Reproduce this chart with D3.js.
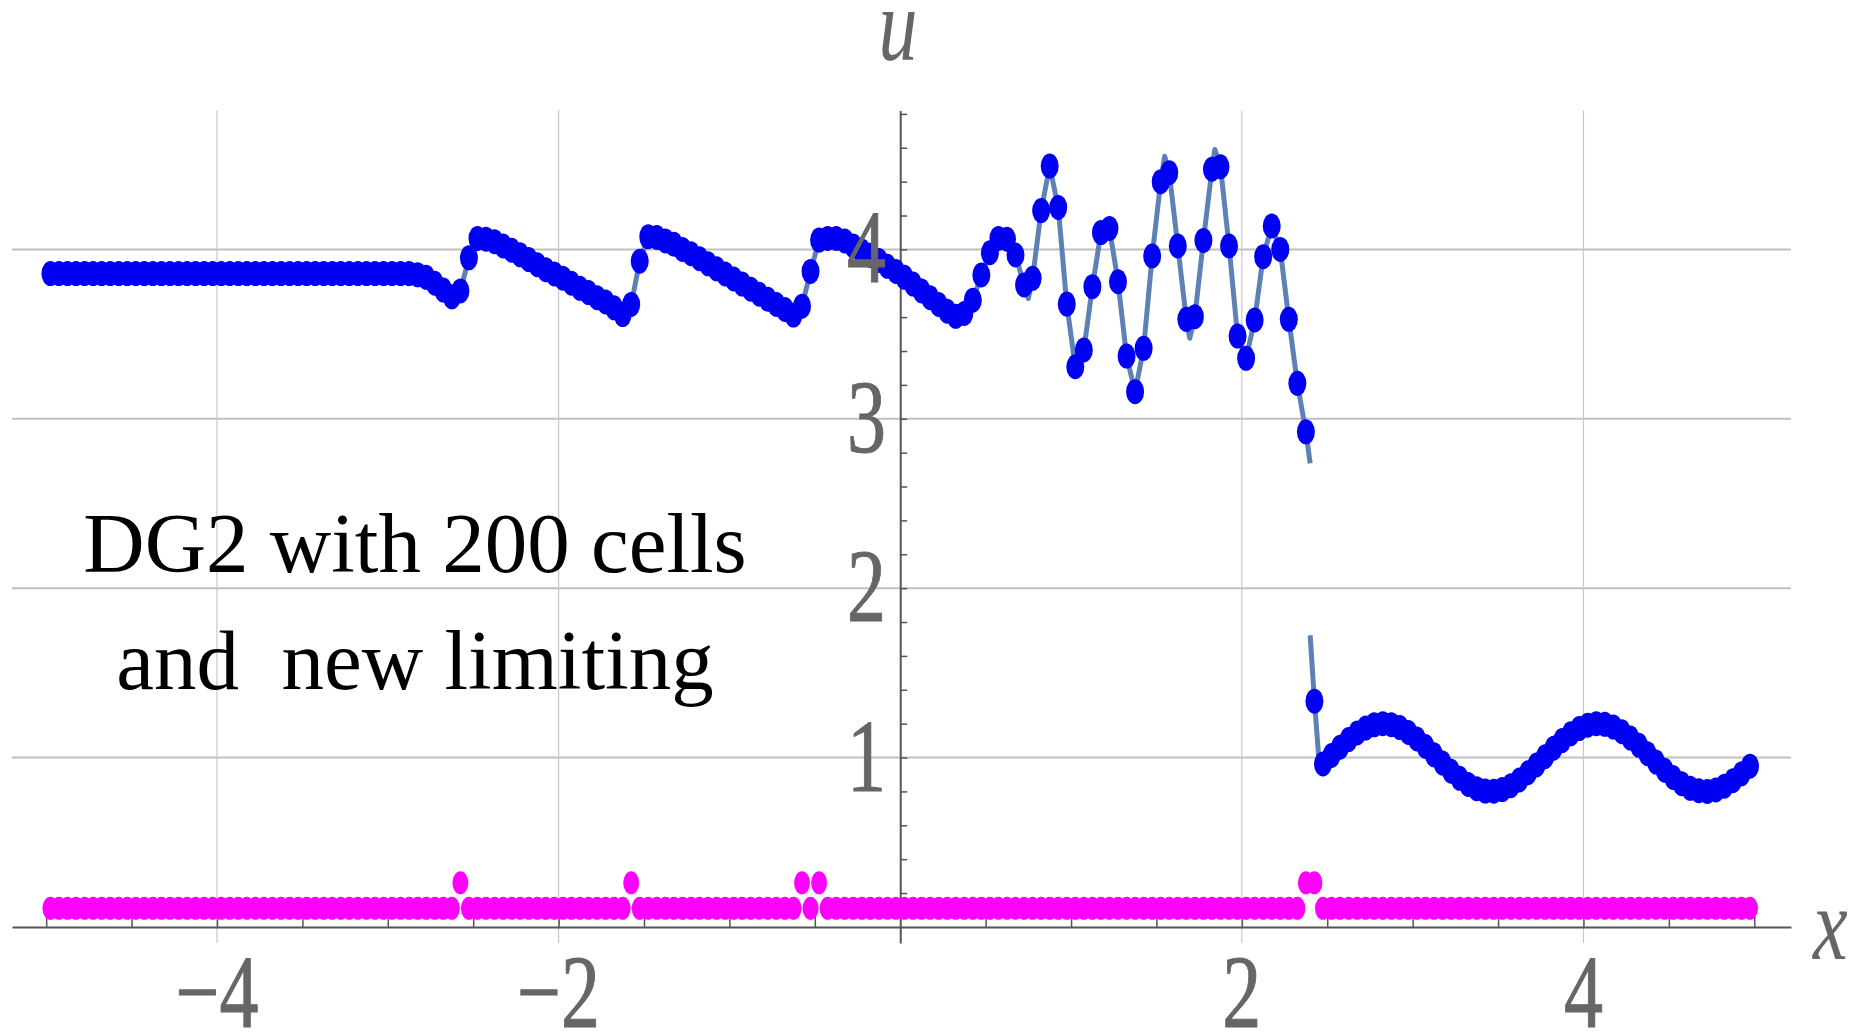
<!DOCTYPE html>
<html>
<head>
<meta charset="utf-8">
<script src="https://cdn.jsdelivr.net/npm/d3@7"></script>
<style>
  html, body { margin: 0; padding: 0; background: #fff; }
  svg { display: block; }
</style>
</head>
<body>
<div id="chart"></div>
<script>
// Cell grid: 200 cells on [-5, 5]
const nCells = 200;
const xLeft = -5, xRight = 5;

// Cell averages (blue), left to right
const uFlat = [
  3.857, 3.857, 3.857, 3.857, 3.857, 3.857, 3.857, 3.857, 3.857, 3.857,
  3.857, 3.857, 3.857, 3.857, 3.857, 3.857, 3.857, 3.857, 3.857, 3.857,
  3.857, 3.857, 3.857, 3.857, 3.857, 3.857, 3.857, 3.857, 3.857, 3.857,
  3.857, 3.857, 3.857, 3.857, 3.857, 3.857, 3.857, 3.857, 3.857, 3.857,
  3.857, 3.857, 3.857
];
const uEntropy = [
  3.85, 3.835, 3.80, 3.76, 3.72, 3.755, 3.95, 4.065, 4.06, 4.045,
  4.02, 3.995, 3.968, 3.94, 3.91, 3.88, 3.855, 3.83, 3.80, 3.77,
  3.745, 3.715, 3.69, 3.655, 3.615, 3.675, 3.93, 4.075, 4.07, 4.05,
  4.03, 4.00, 3.975, 3.945, 3.915, 3.885, 3.855, 3.825, 3.795, 3.765,
  3.735, 3.705, 3.675, 3.645, 3.612, 3.665, 3.87, 4.055, 4.065, 4.065,
  4.05, 4.02, 3.99, 3.965, 3.935, 3.90, 3.87, 3.835, 3.795, 3.755,
  3.715, 3.675, 3.635, 3.605
];
const uOscill = [
  3.622, 3.70, 3.849, 3.98, 4.065, 4.06, 3.967, 3.79, 3.829, 4.229,
  4.492, 4.248, 3.677, 3.307, 3.406, 3.78, 4.099, 4.124, 3.809, 3.37,
  3.16, 3.416, 3.961, 4.40, 4.453, 4.02, 3.587, 3.603, 4.053, 4.473,
  4.488, 4.02, 3.488, 3.357, 3.583, 3.957, 4.138, 4.0, 3.587, 3.209,
  2.923, 1.333
];
const uPostShock = [
  0.962, 1.012, 1.061, 1.106, 1.145, 1.174, 1.193, 1.200, 1.194, 1.177,
  1.148, 1.110, 1.065, 1.016, 0.967, 0.919, 0.877, 0.841, 0.816, 0.802,
  0.801, 0.811, 0.834, 0.868, 0.910, 0.956, 1.005, 1.055, 1.100, 1.140,
  1.171, 1.191, 1.200, 1.196, 1.180, 1.152, 1.115, 1.072, 1.023, 0.973,
  0.925, 0.882, 0.845, 0.818, 0.804, 0.800, 0.809, 0.831, 0.863, 0.904,
  0.949
];

// Extra vertices of the piecewise curve (line only, no dot); null = break
const lineExtraX = [0.75, 1.548, 1.695, 1.842, 2.40, 2.40, 2.40, 2.45];
const lineExtraU = [3.71, 4.55, 3.475, 4.59, 2.737, null, 1.722, 1.004];

// Troubled-cell indicator (magenta)
const troubledX = [-2.575, -1.575, -0.575, -0.475, 2.375, 2.425];
const indicatorLow = 0.11;
const indicatorHigh = 0.26;

// Axis ticks and labels
const xTicks = [-5, -4.5, -4, -3.5, -3, -2.5, -2, -1.5, -1, -0.5, 0.5, 1, 1.5, 2, 2.5, 3, 3.5, 4, 4.5, 5];
const xTickLabels = [-4, -2, 2, 4];
const yTicks = [0.2, 0.4, 0.6, 0.8, 1, 1.2, 1.4, 1.6, 1.8, 2, 2.2, 2.4, 2.6, 2.8, 3, 3.2, 3.4, 3.6, 3.8, 4, 4.2, 4.4, 4.6, 4.8];
const yTickLabels = [1, 2, 3, 4];

const width = 1849, height = 1034;
const labelFont = "'Liberation Serif', 'Times New Roman', Times, serif";
const grey = "#666";

const svg = d3.select("#chart").append("svg")
  .attr("width", width)
  .attr("height", height);

svg.append("rect").attr("width", width).attr("height", height).attr("fill", "#fff");

// Scales
const x = d3.scaleLinear().domain([-5.2, 5.215]).range([12, 1791]);
const y = d3.scaleLinear().domain([-0.095, 4.82]).range([943, 110.5]);

// Data points
const dx = (xRight - xLeft) / nCells;
const cellX = d3.range(nCells).map(k => xLeft + dx * (k + 0.5));
const uAll = uFlat.concat(uEntropy, uOscill, uPostShock);
const blue = cellX.map((c, i) => ({x: c, u: uAll[i]}));
const isTroubled = c => troubledX.some(t => Math.abs(t - c) < 1e-6);
const magenta = cellX.map(c => ({x: c, u: isTroubled(c) ? indicatorHigh : indicatorLow}));
const linePts = blue.concat(lineExtraX.map((v, i) => ({x: v, u: lineExtraU[i]})))
  .sort((a, b) => a.x - b.x);

// Grid lines
svg.append("g").selectAll("line")
  .data(yTickLabels)
  .join("line")
  .attr("x1", x.range()[0]).attr("x2", x.range()[1])
  .attr("y1", d => y(d)).attr("y2", d => y(d))
  .attr("stroke", "#c0c0c0")
  .attr("stroke-width", 2);

svg.append("g").selectAll("line")
  .data(xTickLabels)
  .join("line")
  .attr("x1", d => x(d)).attr("x2", d => x(d))
  .attr("y1", y.range()[0]).attr("y2", y.range()[1])
  .attr("stroke", "#c8c8c8")
  .attr("stroke-width", 1.2);

// Axes
const xAxis = svg.append("g")
  .attr("transform", `translate(0,${y(0)})`)
  .call(d3.axisBottom(x).tickValues(xTicks).tickSize(-10).tickSizeOuter(0).tickFormat(""));
const yAxis = svg.append("g")
  .attr("transform", `translate(${x(0)},0)`)
  .call(d3.axisRight(y).tickValues(yTicks).tickSize(7).tickSizeOuter(0).tickFormat(""));
[xAxis, yAxis].forEach(g => {
  g.select(".domain").attr("stroke", "#555").attr("stroke-width", 2);
  g.selectAll(".tick line").attr("stroke", "#555").attr("stroke-width", 1.5);
});

// Solution curve
const line = d3.line()
  .defined(d => d.u != null)
  .x(d => x(d.x))
  .y(d => y(d.u));

svg.append("path")
  .datum(linePts)
  .attr("fill", "none")
  .attr("stroke", "#5e81b5")
  .attr("stroke-width", 5)
  .attr("stroke-linejoin", "round")
  .attr("d", line);

svg.append("g").selectAll("ellipse")
  .data(blue)
  .join("ellipse")
  .attr("cx", d => x(d.x))
  .attr("cy", d => y(d.u))
  .attr("rx", 9)
  .attr("ry", 12.5)
  .attr("fill", "#0000f2");

// Troubled-cell indicator
svg.append("g").selectAll("ellipse")
  .data(magenta)
  .join("ellipse")
  .attr("cx", d => x(d.x))
  .attr("cy", d => y(d.u))
  .attr("rx", 8)
  .attr("ry", 11.5)
  .attr("fill", "#ff00ff");

// Tick labels
const fmt = d3.format("d");
svg.append("g").selectAll("text")
  .data(xTickLabels)
  .join("text")
  .attr("transform", d => `translate(${x(d)},1027) scale(0.75,1)`)
  .attr("text-anchor", "middle")
  .style("font-family", labelFont)
  .attr("font-size", 104)
  .attr("fill", grey)
  .attr("stroke", grey)
  .attr("stroke-width", 1)
  .text(d => fmt(d));

svg.append("g").selectAll("text")
  .data(yTickLabels)
  .join("text")
  .attr("transform", d => `translate(886,${y(d) + 33}) scale(0.75,1)`)
  .attr("text-anchor", "end")
  .style("font-family", labelFont)
  .attr("font-size", 104)
  .attr("fill", grey)
  .attr("stroke", grey)
  .attr("stroke-width", 1)
  .text(d => fmt(d));

// Axis labels
svg.append("text")
  .attr("transform", "translate(898,60) scale(0.75,1)")
  .attr("text-anchor", "middle")
  .style("font-family", labelFont)
  .attr("font-style", "italic")
  .attr("font-size", 104)
  .attr("fill", grey)
  .text("u");

svg.append("text")
  .attr("transform", "translate(1813,959) scale(0.75,1)")
  .attr("text-anchor", "start")
  .style("font-family", labelFont)
  .attr("font-style", "italic")
  .attr("font-size", 104)
  .attr("fill", grey)
  .text("x");

// Annotation
const note = ["DG2 with 200 cells", "and  new limiting"];
const noteBase = [572, 689];
svg.append("g").selectAll("text")
  .data(note)
  .join("text")
  .attr("transform", (d, i) => `translate(415,${noteBase[i]})`)
  .attr("text-anchor", "middle")
  .style("font-family", labelFont)
  .attr("font-size", 85)
  .attr("fill", "#000")
  .style("white-space", "pre")
  .text(d => d);
</script>
</body>
</html>
